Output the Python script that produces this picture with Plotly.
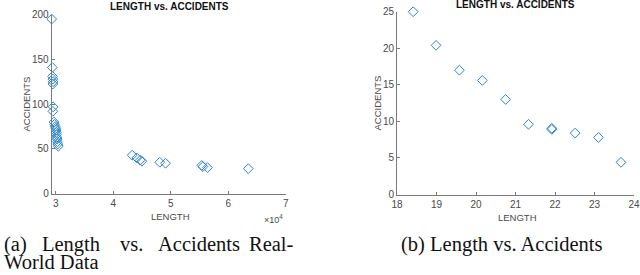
import plotly.graph_objects as go

# ---- data ----
real_length = [29300, 29400, 29450, 29500, 29550, 29500, 29550, 29500,
               29700, 29800, 29900, 30000, 30050, 30100, 30150, 30200,
               30250, 30300, 30350, 30450,
               43300, 44100, 44700, 45000, 48100, 49100, 55400, 55600, 56400, 63500]
real_acc = [195, 141, 131, 128, 125, 122.5, 97, 92,
            80, 77.5, 75, 73, 71, 68.5, 66, 63, 61, 58, 55.5, 53,
            43, 40, 37.4, 36.2, 35.1, 34, 31.6, 30.3, 29.2, 28]

sim_length = [18.41, 18.99, 19.58, 20.16, 20.75, 21.33, 21.92, 21.92, 22.51, 23.10, 23.67]
sim_acc = [25.0, 20.4, 17.0, 15.6, 13.0, 9.6, 9.05, 8.9, 8.4, 7.8, 4.4]

left_xticks = [30000, 40000, 50000, 60000, 70000]
left_xticktext = ["3", "4", "5", "6", "7"]
left_yticks = [0, 50, 100, 150, 200]
right_xticks = [18, 19, 20, 21, 22, 23, 24]
right_yticks = [0, 5, 10, 15, 20, 25]

title_text = "LENGTH vs. ACCIDENTS"
caption_a_line1 = ["(a)", "Length", "vs.", "Accidents", "Real-"]
caption_a_line2 = "World Data"
caption_b = "(b) Length vs. Accidents"

W, H = 640, 275
BLUE = "#2a84cf"
AX = "#7a7a7a"
TXT = "#4a4a4a"
SANS = "Liberation Sans, Arial, sans-serif"
SERIF = "Liberation Serif, Times New Roman, serif"

def px(x):
    return x / W

def py(y):
    return 1 - y / H

fig = go.Figure()
marker = dict(symbol="diamond-open", size=7.5, color=BLUE, line=dict(width=1, color=BLUE))
fig.add_trace(go.Scatter(x=real_length, y=real_acc, mode="markers", marker=marker,
                         xaxis="x", yaxis="y", showlegend=False, cliponaxis=False))
fig.add_trace(go.Scatter(x=sim_length, y=sim_acc, mode="markers", marker=marker,
                         xaxis="x2", yaxis="y2", showlegend=False, cliponaxis=False))

axis_common = dict(showgrid=False, zeroline=False, showline=True, linecolor=AX, linewidth=1,
                   ticks="inside", ticklen=3, tickcolor=AX, mirror=False, automargin=False,
                   tickfont=dict(family=SANS, size=10, color=TXT))

fig.update_layout(
    width=W, height=H, margin=dict(l=0, r=0, t=0, b=0, pad=0),
    paper_bgcolor="white", plot_bgcolor="white",
    xaxis=dict(domain=[px(51.7), px(285.7)], range=[29300, 70000], anchor="y",
               tickvals=left_xticks, ticktext=left_xticktext, **axis_common),
    yaxis=dict(domain=[py(193.7), py(14.6)], range=[0, 200], anchor="x",
               tickvals=left_yticks, **axis_common),
    xaxis2=dict(domain=[px(397), px(634)], range=[18, 24], anchor="y2",
                tickvals=right_xticks, **axis_common),
    yaxis2=dict(domain=[py(194.5), py(11.7)], range=[0, 25], anchor="x2",
                tickvals=right_yticks, **axis_common),
)

ann = []
def text(x, y, s, size, family=SANS, color=TXT, xanchor="center", angle=0):
    ann.append(dict(x=px(x), y=py(y), xref="paper", yref="paper", text=s, showarrow=False,
                    xanchor=xanchor, yanchor="middle", textangle=angle,
                    font=dict(family=family, size=size, color=color)))

# titles
text(169, 6, "<b>" + title_text + "</b>", 10, color="#111")
text(515, 4.5, "<b>" + title_text + "</b>", 10, color="#111")
# axis titles
text(170, 216, "LENGTH", 9.5)
text(517, 217.5, "LENGTH", 9.5)
text(25.5, 104, "ACCIDENTS", 9.5, angle=-90)
text(377.5, 103, "ACCIDENTS", 9.5, angle=-90)
# exponent
text(273, 219, "×10<sup>4</sup>", 9)
# captions
word_x = [2, 40, 118, 156, 247]
for wx, wd in zip(word_x, caption_a_line1):
    text(wx, 244, wd, 20.5, family=SERIF, color="#111", xanchor="left")
text(2, 261.5, caption_a_line2, 20.5, family=SERIF, color="#111", xanchor="left")
text(501.5, 244, caption_b, 20.5, family=SERIF, color="#111")

fig.update_layout(annotations=ann)
fig.write_html("out.html", config={"displayModeBar": False, "staticPlot": True},
               post_script="document.body.style.margin='0';document.body.style.overflow='hidden';")
